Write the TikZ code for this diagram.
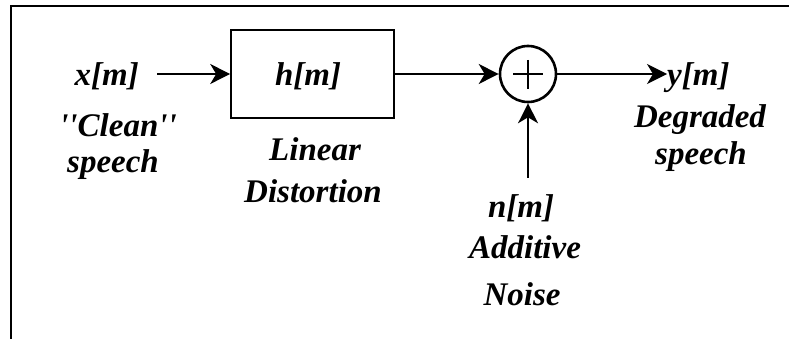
\documentclass[tikz,border=0pt]{standalone}
\usepackage{fontspec}
\setmainfont{Liberation Serif}
\newfontfamily\qfont{Liberation Serif}[Ligatures=TeXOff]
\usetikzlibrary{arrows.meta}
\begin{document}
\begin{tikzpicture}[x=1pt,y=-1pt,
  lbl/.style={font=\fontsize{33}{38}\selectfont\bfseries\itshape, inner sep=0pt, align=center},
  blockbox/.style={draw, line width=1.6pt, minimum width=163pt, minimum height=88pt, inner sep=0pt},
  sumnode/.style={draw, circle, line width=2.6pt, minimum size=56pt, inner sep=0pt},
  sig/.style={line width=1.5pt, -{Stealth[length=20pt,width=20pt,inset=6pt]}},
  frameline/.style={line width=2pt}
]
\useasboundingbox (0,0) rectangle (789,339);
% frame
\coordinate (ftr) at (789,6);
\coordinate (ftl) at (11,6);
\coordinate (fbl) at (11,339);
\draw[frameline] (ftr) -- (ftl) -- (fbl);

% blocks
\node[blockbox] (box) at (312.5,74) {};
\node[lbl, anchor=base] (hm) at (308,86) {h[m]};
\node[sumnode] (sum) at (528,74) {};
\coordinate (pl) at (513,74);
\coordinate (pr) at (543,74);
\coordinate (pt) at (528,60);
\coordinate (pb) at (528,89);
\draw[line width=1.3pt] (pl) -- (pr) (pt) -- (pb);

% signal labels
\node[lbl, anchor=base east] (xm) at (139,86) {x[m]};
\node[lbl, anchor=base west] (ym) at (667,86) {y[m]};
\node[lbl, anchor=base] (nm) at (521,217) {n[m]};
\coordinate (xs) at (157,74);
\coordinate (ns) at (528,178);

% connectors
\draw[sig] (xs) -- (box.west);
\draw[sig] (box.east) -- (sum.west);
\draw[sig] (sum.east) -- (ym.west |- sum.east);
\draw[sig] (ns) -- (sum.south);

% descriptive labels
\node[lbl, anchor=base] (clean) at (118,137) {{\qfont ''}Clean{\qfont ''}};
\node[lbl, anchor=base] (sp1) at (113,173) {speech};
\node[lbl, anchor=base] (lin) at (315,161) {Linear};
\node[lbl, anchor=base] (dist) at (313,202) {Distortion};
\node[lbl, anchor=base] (add) at (525,258) {Additive};
\node[lbl, anchor=base] (noise) at (522,305) {Noise};
\node[lbl, anchor=base] (deg) at (700,128) {Degraded};
\node[lbl, anchor=base] (sp2) at (701,165) {speech};
\end{tikzpicture}
\end{document}
